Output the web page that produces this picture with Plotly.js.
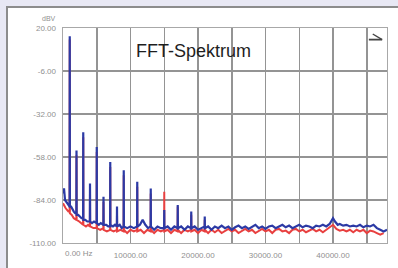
<!DOCTYPE html>
<html>
<head>
<meta charset="utf-8">
<script src="https://cdn.plot.ly/plotly-3.0.1.min.js"></script>
<style>
  html,body{margin:0;padding:0;width:398px;height:268px;overflow:hidden;background:#e8e8f4;}
  #panel{position:absolute;left:6px;top:6px;width:392px;height:262px;background:#fff;border-left:2px solid #8c8c8c;border-top:2px solid #8c8c8c;box-sizing:border-box;}
  #chart{position:absolute;left:0;top:0;width:398px;height:268px;}
</style>
</head>
<body>
<div id="panel"></div>
<div id="chart"></div>
<script>
// Channel B (blue) spectrum: frequency in Hz, level in dBV
const blueFreq = [0,150,300,500,700,900,980,1000,1020,1200,1400,1600,1800,1980,2000,2020,2250,2500,2750,2980,3000,3020,3300,3600,3980,4000,4020,4300,4600,4980,5000,5020,5300,5600,5980,6000,6020,6400,6700,6980,7000,7020,7400,7700,7980,8000,8020,8400,8700,8980,9000,9020,9500,10000,10500,10980,11000,11020,11400,11800,12200,12600,12980,13000,13020,13500,14000,14500,14980,15000,15020,15500,16000,16500,16980,17000,17020,17500,18000,18500,18980,19000,19020,19500,20000,20500,20980,21000,21020,21500,22000,22500,23000,23500,24000,24500,25000,25500,26000,26500,27000,27500,28000,28500,29000,29500,30000,30500,31000,31500,32000,32500,33000,33500,34000,34500,35000,35500,36000,36500,37000,37500,38000,38500,39000,39500,40000,40300,40700,41000,41500,42000,42500,43000,43500,44000,44500,45000,45500,46000,46500,47000,47500,48000];
const blueDb = [-80,-77,-84,-85,-86,-87,-88,15,-88,-88,-90,-91,-92,-92,-54,-93,-93,-94,-95,-95,-43,-96,-96,-97,-97,-74,-97,-98,-97,-98,-52,-98,-99,-98,-99,-82,-99,-99,-100,-100,-61,-99,-100,-99,-100,-88,-100,-99,-101,-100,-66,-100,-101,-100,-101,-100,-73,-100,-99,-96,-99,-101,-100,-77,-100,-102,-100,-101,-101,-90,-101,-100,-102,-100,-101,-87,-101,-100,-102,-100,-101,-91,-101,-100,-102,-101,-100,-94,-101,-100,-102,-100,-101,-99.5,-101,-100,-102,-100.5,-99.5,-101,-100,-101.5,-100,-99,-101,-100,-101.5,-100,-99.5,-101,-100,-99,-100.5,-99.5,-101,-100,-99,-100.5,-99.5,-100,-101,-99.5,-100,-99,-100,-98.5,-95,-97,-99,-98.5,-99.5,-99,-100,-99.5,-100,-99,-100.5,-99.5,-100,-99,-101,-102,-103,-102];
// Channel A (red) spectrum
const redFreq = [0,200,400,600,800,980,1000,1020,1300,1600,1980,2000,2020,2400,2700,2980,3000,3020,3400,3700,3980,4000,4020,4500,4980,5000,5020,5500,5980,6000,6020,6500,6980,7000,7020,7500,7980,8000,8020,8500,8980,9000,9020,9500,10000,10500,10980,11000,11020,11500,12000,12500,12980,13000,13020,13500,14000,14500,14980,15000,15020,15500,16000,16500,16980,17000,17020,17500,18000,18500,18980,19000,19020,19500,20000,20500,20980,21000,21020,21500,22000,22500,23000,23500,24000,24500,25000,25500,26000,26500,27000,27500,28000,28500,29000,29500,30000,30500,31000,31500,32000,32500,33000,33500,34000,34500,35000,35500,36000,36500,37000,37500,38000,38500,39000,39500,40000,40500,41000,41500,42000,42500,43000,43500,44000,44500,45000,45500,46000,46500,47000,47500,48000];
const redDb = [-86,-88,-89,-90,-91,-91,13,-92,-93,-95,-96,-57,-96,-97,-98,-99,-46,-99,-100,-99,-100,-77,-100,-101,-101,-55,-101,-102,-101,-85,-102,-103,-102,-64,-102,-103,-102,-91,-103,-102,-103,-69,-102,-104,-102,-103,-102,-76,-103,-102,-104,-102,-103,-80,-102,-104,-102,-103,-102,-79,-103,-102,-104,-102,-103,-88,-102,-104,-102,-103,-102,-93,-103,-102,-104,-102,-103,-96,-102,-104,-102,-103.5,-102,-104,-102.5,-101.5,-103,-102,-104,-102.5,-101.5,-103,-102,-104,-102.5,-101.5,-103,-102,-104,-102,-101.5,-103,-102.5,-104,-102,-101.5,-103,-102,-103.5,-102.5,-101.5,-103,-102,-103.5,-102,-101,-99,-101.5,-102.5,-102,-103,-102,-103.5,-102,-103,-102,-104,-102.5,-103,-104,-105,-104];

const yTicks = [20,-6,-32,-58,-84,-110];
const yTickText = ["20.00","-6.00","-32.00","-58.00","-84.00","-110.00"];
const xTicks = [0,5000,10000,15000,20000,25000,30000,35000,40000,45000];
const xTickText = ["","","10000.00","","20000.00","","30000.00","","40000.00",""];
const xFirstLabel = "0.00 Hz";
const chartTitle = "FFT-Spektrum";
const yUnit = "dBV";

const traces = [
  {x: redFreq, y: redDb, type: 'scatter', mode: 'lines', line: {color: 'rgb(232,64,64)', width: 2}, hoverinfo: 'skip'},
  {x: blueFreq, y: blueDb, type: 'scatter', mode: 'lines', line: {color: 'rgb(44,58,165)', width: 2.2}, hoverinfo: 'skip'}
];

const tickFont = {family: 'Liberation Sans, Arial, sans-serif', size: 8, color: '#909090'};

const layout = {
  width: 398, height: 268,
  margin: {l: 63, r: 11, t: 28, b: 25, pad: 0},
  paper_bgcolor: 'rgba(0,0,0,0)',
  plot_bgcolor: '#ffffff',
  showlegend: false,
  xaxis: {
    range: [0, 48000], tickvals: xTicks, ticktext: xTickText, tickangle: 0,
    showgrid: true, gridcolor: '#949494', gridwidth: 1.5, zeroline: false,
    showline: true, mirror: true, linecolor: '#a8a8a8', linewidth: 1.4,
    ticks: '', tickfont: tickFont, ticklabelstandoff: 4, fixedrange: true
  },
  yaxis: {
    range: [-110, 20], tickvals: yTicks, ticktext: yTickText,
    showgrid: true, gridcolor: '#949494', gridwidth: 1.5, zeroline: false,
    showline: true, mirror: true, linecolor: '#a8a8a8', linewidth: 1.4,
    ticks: '', tickfont: tickFont, ticklabelstandoff: 4, fixedrange: true
  },
  annotations: [
    {xref: 'paper', yref: 'paper', x: 0.2185, y: 0.891, xanchor: 'left', yanchor: 'middle',
     text: chartTitle, showarrow: false, font: {family: 'Liberation Sans, Arial, sans-serif', size: 18, color: '#1e1e1e'}},
    {xref: 'x', yref: 'paper', x: 0, y: 0, yshift: -10, xanchor: 'left', yanchor: 'middle',
     text: xFirstLabel, showarrow: false, font: tickFont},
    {xref: 'paper', yref: 'paper', x: 0, y: 1, xshift: -5, yshift: 10, xanchor: 'right', yanchor: 'middle',
     text: yUnit, showarrow: false, font: {family: 'Liberation Sans, Arial, sans-serif', size: 7, color: '#909090'}}
  ],
  shapes: [
    {type: 'line', xref: 'paper', yref: 'paper', x0: 0.944, x1: 0.985, y0: 0.946, y1: 0.946, line: {color: '#444', width: 1.8}},
    {type: 'line', xref: 'paper', yref: 'paper', x0: 0.956, x1: 0.985, y0: 0.972, y1: 0.946, line: {color: '#444', width: 1.4}}
  ]
};

Plotly.newPlot('chart', traces, layout, {displayModeBar: false, staticPlot: true});
</script>
</body>
</html>
